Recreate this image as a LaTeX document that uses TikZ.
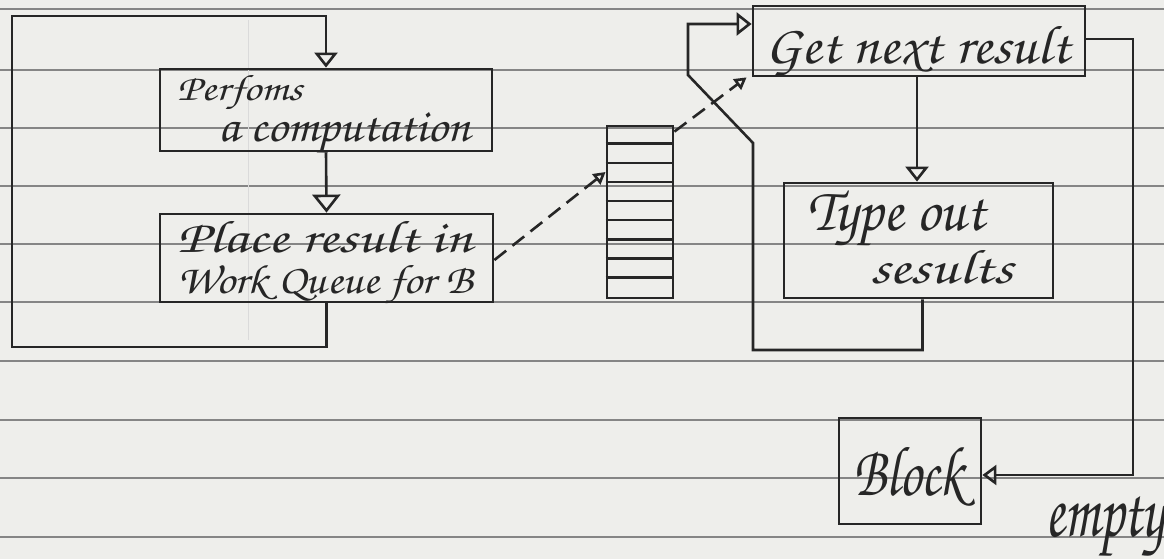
\documentclass[tikz,border=0pt]{standalone}
\usepackage{fontspec}
\newfontfamily\hand{TeX Gyre Chorus}
\usetikzlibrary{arrows.meta}
\definecolor{paper}{HTML}{EEEEEB}
\definecolor{ink}{HTML}{262626}
\definecolor{rulec}{HTML}{858585}
\newcommand\hw[3]{\resizebox{#1pt}{#2pt}{\hand #3}}
\begin{document}
\begin{tikzpicture}[x=1pt,y=-1pt,
  box/.style={draw=ink, line width=2.8pt, inner sep=0pt},
  wire/.style={draw=ink, line width=2.6pt, line join=miter},
  txt/.style={anchor=base west, inner sep=0pt, text=ink},
  tipL/.style={-{Triangle[open,length=18pt,width=28pt]}},
  tipM/.style={-{Triangle[open,length=15pt,width=23pt]}},
  tipS/.style={-{Triangle[open,length=14pt,width=20pt]}},
  dashedarrow/.style={wire, dash pattern=on 15pt off 8pt, -{Triangle[open,length=12pt,width=13pt]}},
  paperrule/.style={draw=rulec, line width=1.4pt}]
\fill[paper] (0,0) rectangle (1164,559);
\useasboundingbox (0,0) rectangle (1164,559);
% lined paper
\foreach \y in {9,70,128,186,244,302,361,420,478,537}
  \draw[paperrule] (0,\y) -- (1164,\y);
\draw[draw=rulec!30, line width=1pt] (248,20) -- (248,340);
% boxes
\node[box, minimum width=332pt, minimum height=82pt] (perf) at (326,110) {};
\node[box, minimum width=333pt, minimum height=88pt] (place) at (326.5,258) {};
\node[box, minimum width=66pt, minimum height=172pt] (queue) at (640,212) {};
\node[box, minimum width=332pt, minimum height=70pt] (get) at (919,41) {};
\node[box, minimum width=269pt, minimum height=115pt] (type) at (918.5,240.5) {};
\node[box, minimum width=142pt, minimum height=106pt] (block) at (910,471) {};
\foreach \i in {1,...,8}
  \draw[wire] ([yshift=-\i*19.1pt]queue.north west) -- ([yshift=-\i*19.1pt]queue.north east);
% texts
\node[txt] (t1) at (177,101) {\hw{125}{25}{Perfoms}};
\node[txt] (t2) at (218,142) {\hw{252}{29}{a computation}};
\node[txt] (t3) at (177,252) {\hw{295}{31}{Place result in}};
\node[txt] (t4) at (177,293) {\hw{296}{28}{Work Queue for B}};
\node[txt] (t5) at (765,64) {\hw{305}{37}{Get next result}};
\node[txt] (t6) at (807,230) {\hw{178}{40}{Type out}};
\node[txt] (t7) at (870,283) {\hw{143}{33}{sesults}};
\node[txt] (t8) at (853,495) {\hw{110}{48}{Block}};
\node[txt] (t9) at (1045,536) {\hw{119}{40}{empty}};
% coordinates
\coordinate (lbl) at (12,347);
\coordinate (ltl) at (12,16);
\coordinate (ubl) at (753,350);
\coordinate (ubd) at (753,143);
\coordinate (utd) at (688,75);
\coordinate (rc) at (1133,475);
% connectors
\draw[wire, tipM] (place.south) |- (lbl) -- (ltl) -| (perf.north);
\draw[wire, tipL] (perf.south) -- (place.north);
\draw[dashedarrow] ([yshift=-2pt]place.east) -- ([yshift=40pt]queue.west);
\draw[dashedarrow] ([yshift=-7pt]queue.north east) -- ([xshift=-5pt]get.south west);
\draw[wire, tipM] ([xshift=4pt]type.south) |- (ubl) -- (ubd) -- (utd) |- ([yshift=17pt]get.west);
\draw[wire, tipM] ([xshift=-2pt]get.south) -- ([xshift=-2pt]get.south |- type.north);
\draw[wire, tipS] ([yshift=2pt]get.east) -| (rc) -- (rc -| block.east);
\end{tikzpicture}
\end{document}
